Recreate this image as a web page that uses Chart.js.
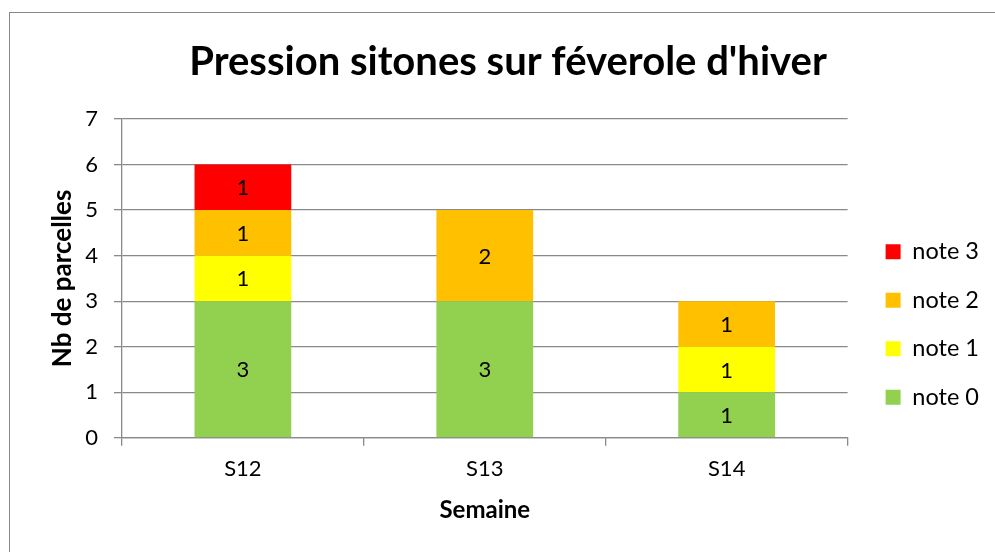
<!DOCTYPE html>
<html>
<head>
<meta charset="utf-8">
<script src="https://cdn.jsdelivr.net/npm/chart.js@4.4.1/dist/chart.umd.min.js"></script>
<style>
  body { margin: 0; background: #fff; }
  #wrap { position: relative; width: 995px; height: 552px; overflow: hidden; }
  #frame { position: absolute; left: 9px; top: 12px; width: 1100px; height: 700px;
           border-left: 1.5px solid #888; border-top: 1.5px solid #888; }
  canvas { position: absolute; left: 0; top: 0; }
</style>
</head>
<body>
<div id="wrap">
  <div id="frame"></div>
  <canvas id="sitonesChart" width="995" height="552"></canvas>
</div>
<script>
  // Data
  const weeks = ['S12', 'S13', 'S14'];
  const note0 = [3, 3, 1];
  const note1 = [1, 0, 1];
  const note2 = [1, 2, 1];
  const note3 = [1, 0, 0];

  const FONT = 'Lato';
  const gridGray = '#898989';

  // values inside each segment
  const segmentLabels = {
      id: 'segmentLabels',
      afterDatasetsDraw(chart) {
          const ctx = chart.ctx;
          ctx.save();
          ctx.font = '22px ' + FONT;
          ctx.fillStyle = '#000';
          ctx.textAlign = 'center';
          ctx.textBaseline = 'middle';
          chart.data.datasets.forEach((ds, i) => {
              chart.getDatasetMeta(i).data.forEach((bar, j) => {
                  const v = ds.data[j];
                  if (!v) return;
                  const p = bar.getProps(['x', 'y', 'base'], true);
                  ctx.fillText(String(v), p.x, (p.y + p.base) / 2 + 1);
              });
          });
          ctx.restore();
      }
  };

  // nudge the legend to where Excel puts it
  const legendShift = {
      id: 'legendShift',
      afterLayout(chart) {
          const lg = chart.legend;
          const dx = 13, dy = 53;
          lg.left += dx; lg.right += dx;
          lg.top += dy; lg.bottom += dy;
      }
  };

  const ctx = document.getElementById('sitonesChart').getContext('2d');
  const sitonesChart = new Chart(ctx, {
      type: 'bar',
      data: {
          labels: weeks,
          datasets: [
              { label: 'note 0', data: note0, backgroundColor: '#92D050' },
              { label: 'note 1', data: note1, backgroundColor: '#FFFF00' },
              { label: 'note 2', data: note2, backgroundColor: '#FFC000' },
              { label: 'note 3', data: note3, backgroundColor: '#FF0000' }
          ]
      },
      options: {
          responsive: false,
          animation: false,
          devicePixelRatio: 1,
          layout: { padding: { top: 18, left: 40, right: 19, bottom: 27 } },
          datasets: { bar: { categoryPercentage: 1, barPercentage: 0.4, borderWidth: 0 } },
          plugins: {
              title: {
                  display: true,
                  text: "Pression sitones sur féverole d'hiver",
                  color: '#000',
                  font: { family: FONT, size: 40, weight: 'bold' },
                  padding: { top: 20, bottom: 33 }
              },
              legend: {
                  position: 'right',
                  reverse: true,
                  labels: {
                      boxWidth: 15,
                      boxHeight: 15,
                      padding: 25,
                      color: '#000',
                      font: { family: FONT, size: 23.5 }
                  }
              },
              tooltip: { enabled: false }
          },
          scales: {
              x: {
                  stacked: true,
                  grid: { offset: true, drawOnChartArea: false, drawTicks: true, tickLength: 8, color: gridGray, lineWidth: 1.3 },
                  border: { color: gridGray, width: 1.3 },
                  ticks: { color: '#000', padding: 10, font: { family: FONT, size: 22 } },
                  title: { display: true, text: 'Semaine', color: '#000', padding: { top: 4, bottom: 0 },
                           font: { family: FONT, size: 24, weight: 'bold' } }
              },
              y: {
                  stacked: true,
                  min: 0,
                  max: 7,
                  grid: { color: gridGray, lineWidth: 1.3, tickLength: 8 },
                  border: { color: gridGray, width: 1.3 },
                  ticks: { stepSize: 1, color: '#000', padding: 16, font: { family: FONT, size: 22 } },
                  title: { display: true, text: 'Nb de parcelles', color: '#000', padding: { top: 7, bottom: -9 },
                           font: { family: FONT, size: 26, weight: 'bold' } }
              }
          }
      },
      plugins: [segmentLabels, legendShift]
  });
</script>
</body>
</html>
